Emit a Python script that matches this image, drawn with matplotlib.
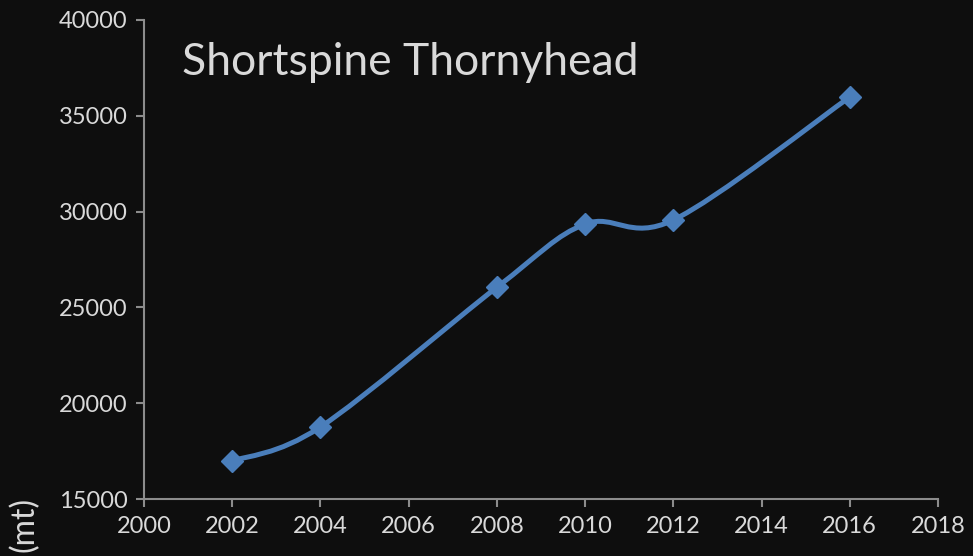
import matplotlib
matplotlib.use("Agg")
import matplotlib.pyplot as plt
from matplotlib.path import Path
from matplotlib.patches import PathPatch
import numpy as np

years = [2002, 2004, 2008, 2010, 2012, 2016]
biomass = [16980, 18760, 26050, 29350, 29560, 35980]
xticks = [2000, 2002, 2004, 2006, 2008, 2010, 2012, 2014, 2016, 2018]
yticks = [15000, 20000, 25000, 30000, 35000, 40000]
title = "Shortspine Thornyhead"
ylabel = "(mt)"

bg = "#0e0e0e"
fg = "#d9d9d9"
line_c = "#4a7ebb"
spine_c = "#8c8c8c"
font = ["Lato", "DejaVu Sans"]

fig = plt.figure(figsize=(9.73, 5.56), dpi=100, facecolor=bg)
ax = fig.add_axes([144/973, 1-499/556, (938-144)/973, (499-20)/556])
ax.set_facecolor(bg)
ax.set_xlim(2000, 2018)
ax.set_ylim(15000, 40000)

# smoothed line (Excel-style Catmull-Rom bezier)
P = np.column_stack([years, biomass]).astype(float)
verts = [tuple(P[0])]
codes = [Path.MOVETO]
n = len(P)
for i in range(n - 1):
    p0 = P[i - 1] if i > 0 else P[i]
    p1 = P[i]
    p2 = P[i + 1]
    p3 = P[i + 2] if i + 2 < n else P[i + 1]
    c1 = p1 + (p2 - p0) / 6
    c2 = p2 - (p3 - p1) / 6
    verts += [tuple(c1), tuple(c2), tuple(p2)]
    codes += [Path.CURVE4] * 3
ax.add_patch(PathPatch(Path(verts, codes), facecolor="none", edgecolor=line_c,
                       lw=3.6, capstyle="round", joinstyle="round", zorder=3))
ax.plot(years, biomass, linestyle="none", marker="D", color=line_c,
        markersize=11, zorder=4, clip_on=False)

for s in ["top", "right"]:
    ax.spines[s].set_visible(False)
for s in ["left", "bottom"]:
    ax.spines[s].set_color(spine_c)
    ax.spines[s].set_linewidth(1.5)
ax.set_xticks(xticks)
ax.set_yticks(yticks)
ax.tick_params(axis="both", colors=spine_c, width=1.5, length=6, direction="out",
               labelcolor=fg, labelsize=17)
for lab in ax.get_xticklabels() + ax.get_yticklabels():
    lab.set_family(font)
ax.tick_params(axis="x", pad=6)
ax.tick_params(axis="y", pad=6)

ax.text(182/973, 1-75/556, title, transform=fig.transFigure, color=fg,
        fontsize=32, family=font, ha="left", va="baseline")
fig.text(24/973, 1-497/556, ylabel, rotation=90, color=fg, fontsize=23,
         family=font, ha="center", va="top")

fig.savefig("out.png", dpi=100, facecolor=bg)
